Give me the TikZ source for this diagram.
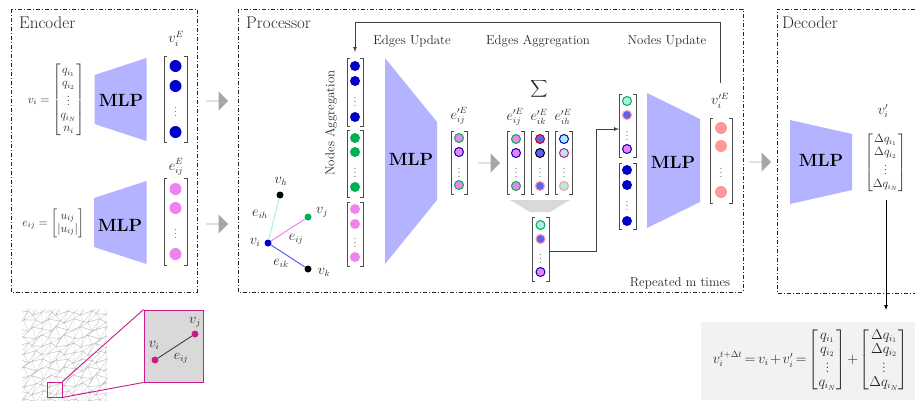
\documentclass[tikz,border=0pt]{standalone}
\usepackage{amsmath}
\usetikzlibrary{shapes.arrows}
\definecolor{mlpblue}{HTML}{B3B3FF}
\definecolor{nodeblue}{HTML}{0000C8}
\definecolor{nodegreen}{HTML}{00B050}
\definecolor{nodepink}{HTML}{EE82EE}
\definecolor{nodesalmon}{HTML}{FF9999}
\definecolor{edgeblue}{HTML}{6060F0}
\definecolor{edgeturq}{HTML}{AAEEE4}
\definecolor{zoommag}{HTML}{CC1A8C}
\tikzset{
  panel/.style={dash pattern=on 4pt off 2pt on 1pt off 2pt, line width=0.8pt, black!85},
  mlptext/.style={font=\fontsize{17.7}{18}\selectfont\bfseries, inner sep=0pt},
  headtext/.style={font=\fontsize{17}{19}\selectfont, inner sep=0pt, black!85},
  steptext/.style={font=\fontsize{12.9}{14}\selectfont, inner sep=0pt, black!85},
  mathtext/.style={font=\fontsize{13.5}{15}\selectfont, inner sep=0pt, black!85},
  matrixtext/.style={font=\fontsize{11.5}{13}\selectfont, inner sep=0pt, black!85},
  bigdot/.style={circle, minimum size=12pt, inner sep=0pt},
  middot/.style={circle, minimum size=10pt, inner sep=0pt},
  ringdot/.style={circle, minimum size=9pt, inner sep=0pt, line width=1pt, draw=#1},
  tinydot/.style={circle, minimum size=7pt, inner sep=0pt},
  flowarrow/.style={single arrow, fill=black!35, single arrow head extend=5pt, minimum width=19pt, minimum height=22pt, single arrow head indent=0pt, inner sep=0pt},
  conn/.style={line width=0.7pt, black!75},
}
\newcommand{\vecbrack}[4]{\draw[line width=0.6pt, black!70] (#1+3,#3) -- (#1,#3) -- (#1,#4) -- (#1+3,#4) (#2-3,#3) -- (#2,#3) -- (#2,#4) -- (#2-3,#4);}
\newcommand{\vecdots}[2]{\node[inner sep=0pt, black!70] at (#1,#2) {$\vdots$};}
\pgfmathdeclarefunction{meshx}{2}{\pgfmathparse{#1+2.4*sin(#1*17+#2*23)}}
\pgfmathdeclarefunction{meshy}{2}{\pgfmathparse{#2+2.4*cos(#1*29+#2*13)}}
\begin{document}
\begin{tikzpicture}[x=1pt,y=-1pt]
\useasboundingbox (0,0) rectangle (915,400);
\fill[black!5] (701,322) rectangle (915,400);
% panels
\draw[panel] (11,9) rectangle (197,292);
\draw[panel] (238,9) rectangle (743,292);
\draw[panel] (915,9) -- (777,9) -- (777,293) -- (915,293);
\node[headtext, anchor=west] (enclabel) at (19,23) {Encoder};
\node[headtext, anchor=west] (proclabel) at (246,23) {Processor};
\node[headtext, anchor=west] (declabel) at (782,23) {Decoder};
% encoder
\fill[mlpblue] (94.5,75) -- (146.5,58) -- (146.5,141) -- (94.5,124) -- cycle;
\node[mlptext] (mlpa) at (121,100) {MLP};
\fill[mlpblue] (94,198) -- (146.5,181) -- (146.5,264) -- (94,247) -- cycle;
\node[mlptext] (mlpb) at (120,225) {MLP};
\node[matrixtext, anchor=east] (videf) at (84.5,100) {$v_i=\begin{bmatrix} q_{i_1}\\ q_{i_2}\\ \vdots\\ q_{i_N}\\ n_i\end{bmatrix}$};
\node[matrixtext, anchor=east] (eijdef) at (84.5,223) {$e_{ij}=\begin{bmatrix} u_{ij}\\ |u_{ij}|\end{bmatrix}$};
\vecbrack{164}{187}{56}{142}
\foreach \n/\y in {a/66,b/86,c/132} \node[bigdot, fill=nodeblue] (enc\n) at (175.5,\y) {};
\vecdots{175.5}{109}
\node[mathtext] (vilabel) at (176,39) {$v_i^E$};
\vecbrack{164}{187}{178}{265}
\foreach \n/\y in {d/189,e/208,f/254} \node[bigdot, fill=nodepink] (enc\n) at (175.5,\y) {};
\vecdots{175.5}{231}
\node[mathtext] (eilabel) at (176,167) {$e_{ij}^E$};
\node[flowarrow] (flowa) at (217,101) {};
\node[flowarrow] (flowb) at (217,224) {};
% graph
\node[tinydot, fill=nodeblue] (gi) at (268,243) {};
\node[tinydot, fill=black] (gh) at (280,195) {};
\node[tinydot, fill=nodegreen] (gj) at (308,217) {};
\node[tinydot, fill=black] (gk) at (308,269) {};
\draw[line width=1pt, edgeturq] (gi) -- (gh);
\draw[line width=1pt, nodepink] (gi) -- (gj);
\draw[line width=1pt, edgeblue] (gi) -- (gk);
\node[mathtext] (lh) at (281,181) {$v_h$};
\node[mathtext] (lj) at (322,212) {$v_j$};
\node[mathtext] (lk) at (324,272) {$v_k$};
\node[mathtext] (li) at (255,242) {$v_i$};
\node[mathtext] (lih) at (260,214) {$e_{ih}$};
\node[mathtext] (lij) at (296,239) {$e_{ij}$};
\node[mathtext] (lik) at (281,263) {$e_{ik}$};
% processor
\node[steptext, rotate=90] (nodesagg) at (331,123) {Nodes Aggregation};
\node[steptext] (edgesup) at (412,41) {Edges Update};
\node[steptext] (edgesagg) at (538,41) {Edges Aggregation};
\node[steptext] (nodesup) at (667,41) {Nodes Update};
\vecbrack{347}{363}{58}{126}
\foreach \n/\y in {a/66,b/81,c/117} \node[middot, fill=nodeblue] (agg\n) at (355,\y) {};
\vecdots{355}{99}
\vecbrack{347}{363}{130}{197}
\foreach \n/\y in {d/138,e/152,f/187} \node[middot, fill=nodegreen] (agg\n) at (355,\y) {};
\vecdots{355}{170}
\vecbrack{347}{363}{202}{266}
\foreach \n/\y in {g/209,h/224,i/257} \node[middot, fill=nodepink] (agg\n) at (355,\y) {};
\vecdots{355}{240}
\fill[mlpblue] (385,58) -- (437,122) -- (437,200) -- (385,264) -- cycle;
\node[mlptext] (mlpc) at (411,159) {MLP};
\node[mathtext] (eplabel) at (459,116) {$e_{ij}^{\prime E}$};
\vecbrack{451}{467}{131}{194}
\foreach \n/\y/\c in {a/138/nodegreen,b/152/nodeblue,c/185/nodegreen} \node[ringdot=\c, fill=nodepink] (ep\n) at (459,\y) {};
\vecdots{459}{170}
\node[flowarrow] (flowc) at (489,163) {};
\node[inner sep=0pt, black!85, font=\fontsize{13}{15}\selectfont] (sumsign) at (539,89) {$\displaystyle\sum$};
\node[mathtext] (lsa) at (515,117) {$e_{ij}^{\prime E}$};
\node[mathtext] (lsb) at (539,117) {$e_{ik}^{\prime E}$};
\node[mathtext] (lsc) at (563,117) {$e_{ih}^{\prime E}$};
\vecbrack{507}{524}{131}{194}
\vecbrack{531}{548}{131}{194}
\vecbrack{555}{572}{131}{194}
\foreach \n/\y/\c in {a/139/nodegreen,b/153/nodeblue,c/186/nodegreen} \node[ringdot=\c, fill=nodepink] (sa\n) at (516,\y) {};
\foreach \n/\y/\c in {a/139/red!80!black,b/153/black,c/186/nodesalmon} \node[ringdot=\c, fill=edgeblue] (sb\n) at (540,\y) {};
\foreach \n/\y/\c in {a/139/nodeblue,b/153/zoommag,c/186/nodesalmon} \node[ringdot=\c, fill=edgeturq] (sc\n) at (564,\y) {};
\vecdots{516}{170} \vecdots{540}{170} \vecdots{564}{170}
\fill[black!15] (510,200) -- (570,200) -- (550,212) -- (530,212) -- cycle;
\vecbrack{532}{549}{217}{281}
\node[ringdot=nodegreen, fill=edgeturq] (ra) at (540.5,225) {};
\node[ringdot=nodesalmon, fill=edgeblue] (rb) at (540.5,239) {};
\node[ringdot=nodeblue, fill=nodepink] (rc) at (540.5,272) {};
\vecdots{540.5}{256}
\coordinate (rout) at (549,251);
\vecbrack{619}{636}{94}{157}
\node[ringdot=nodegreen, fill=edgeturq] (ua) at (627,101) {};
\node[ringdot=nodesalmon, fill=edgeblue] (ub) at (627,115) {};
\node[ringdot=nodeblue, fill=nodepink] (uc) at (627,149) {};
\vecdots{627}{133}
\coordinate (uin) at (619,129);
\draw[conn, -latex] (rout) -| (596,129) -- (uin);
\vecbrack{619}{636}{163}{229}
\foreach \n/\y in {d/170,e/185,f/221} \node[middot, fill=nodeblue] (u\n) at (627,\y) {};
\vecdots{627}{203}
\fill[mlpblue] (647,93) -- (700,119) -- (700,202) -- (647,228) -- cycle;
\node[mlptext] (mlpd) at (673,162) {MLP};
\node[mathtext] (vplabel) at (720,101) {$v_i^{\prime E}$};
\vecbrack{710}{732}{118}{203}
\foreach \n/\y in {a/128,b/146,c/192} \node[bigdot, fill=nodesalmon] (vp\n) at (721,\y) {};
\vecdots{721}{170}
\coordinate (loopout) at (720,83);
\coordinate (loopin) at (355,52);
\draw[conn, -latex] (loopout) |- (355,22) -- (loopin);
\node[steptext] (repeated) at (680,283) {Repeated m times};
\node[flowarrow] (flowd) at (760,162) {};
% decoder
\fill[mlpblue] (790,120) -- (852,134) -- (852,190) -- (790,204) -- cycle;
\node[mlptext] (mlpe) at (821,160) {MLP};
\node[mathtext] (vout) at (883,111) {$v_i'$};
\node[matrixtext, font=\fontsize{12}{13}\selectfont] (dq) at (885.5,162.5) {$\begin{bmatrix} \Delta q_{i_1}\\ \Delta q_{i_2}\\ \vdots\\ \Delta q_{i_N}\end{bmatrix}$};
\coordinate (dqout) at (886,200);
\coordinate (sumin) at (886,310);
\draw[conn, black, -latex] (dqout) -- (sumin);
\node[matrixtext, font=\fontsize{13.5}{14}\selectfont, anchor=east] (update) at (908.5,360) {\thickmuskip=3mu \medmuskip=2mu $v_i^{t+\Delta t}=v_i+v_i'=\begin{bmatrix} q_{i_1}\\ q_{i_2}\\ \vdots\\ q_{i_N}\end{bmatrix}+\begin{bmatrix} \Delta q_{i_1}\\ \Delta q_{i_2}\\ \vdots\\ \Delta q_{i_N}\end{bmatrix}$};
% mesh
\begin{scope}
\clip (22,309) rectangle (107,400);
\foreach \i in {18,26,...,106} \foreach \j in {305,313,...,401} {
  \pgfmathsetmacro{\xa}{meshx(\i,\j)} \pgfmathsetmacro{\ya}{meshy(\i,\j)}
  \pgfmathsetmacro{\xb}{meshx(\i+8,\j)} \pgfmathsetmacro{\yb}{meshy(\i+8,\j)}
  \pgfmathsetmacro{\xc}{meshx(\i,\j+8)} \pgfmathsetmacro{\yc}{meshy(\i,\j+8)}
  \pgfmathsetmacro{\xd}{meshx(\i+8,\j+8)} \pgfmathsetmacro{\yd}{meshy(\i+8,\j+8)}
  \draw[line width=0.2pt, black!28] (\xc,\yc) -- (\xa,\ya) -- (\xb,\yb) -- (\xc,\yc) -- (\xd,\yd);
}
\end{scope}
\node[draw=zoommag, line width=0.9pt, minimum size=15pt, inner sep=0pt] (zoomsmall) at (54.5,389.5) {};
\node[draw=zoommag, line width=0.9pt, fill=black!15, minimum width=59pt, minimum height=72pt, inner sep=0pt] (zoombig) at (173.5,346) {};
\draw[line width=0.9pt, zoommag] (zoomsmall.north east) -- (zoombig.north west);
\draw[line width=0.9pt, zoommag] (zoomsmall.south east) -- (zoombig.south west);
\node[tinydot, fill=zoommag] (zi) at (155,360) {};
\node[tinydot, fill=zoommag] (zj) at (195,334) {};
\draw[line width=0.9pt, black!75] (zi) -- (zj);
\node[mathtext] (zli) at (154,345) {$v_i$};
\node[mathtext] (zlj) at (195,322) {$v_j$};
\node[mathtext] (zle) at (181,358) {$e_{ij}$};
\end{tikzpicture}
\end{document}
